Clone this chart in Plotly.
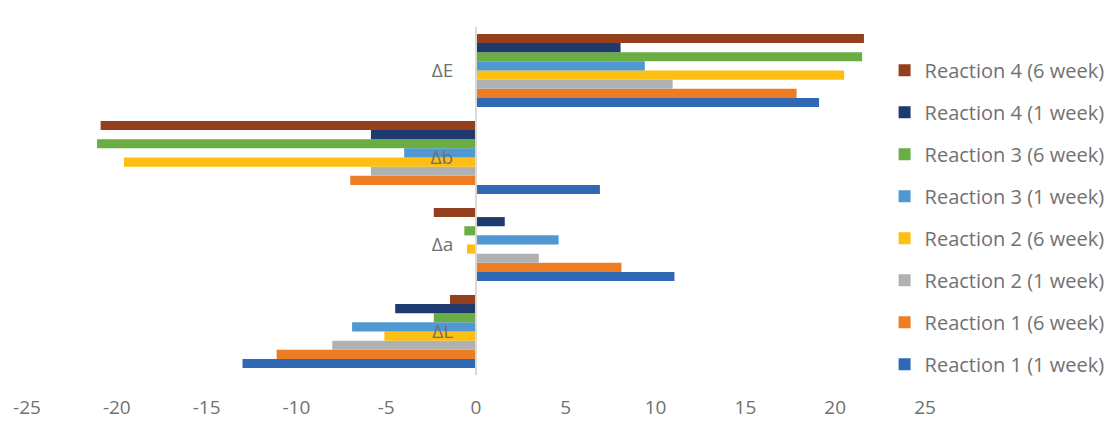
import plotly.graph_objects as go

# Colour-difference components, bottom to top on the category axis
categories = ["ΔL", "Δa", "Δb", "ΔE"]

r1_1week = [-13.0, 11.05, 6.9, 19.1]
r1_6week = [-11.1, 8.1, -7.0, 17.85]
r2_1week = [-8.0, 3.5, -5.85, 10.95]
r2_6week = [-5.1, -0.5, -19.6, 20.5]
r3_1week = [-6.9, 4.6, -4.0, 9.4]
r3_6week = [-2.35, -0.65, -21.1, 21.5]
r4_1week = [-4.5, 1.6, -5.85, 8.05]
r4_6week = [-1.45, -2.35, -20.9, 21.6]

series_names = [
    "Reaction 1 (1 week)", "Reaction 1 (6 week)",
    "Reaction 2 (1 week)", "Reaction 2 (6 week)",
    "Reaction 3 (1 week)", "Reaction 3 (6 week)",
    "Reaction 4 (1 week)", "Reaction 4 (6 week)",
]
series_values = [r1_1week, r1_6week, r2_1week, r2_6week,
                 r3_1week, r3_6week, r4_1week, r4_6week]
series_colors = ["#3068B4", "#ED7D25", "#B0B1B3", "#FCBF12",
                 "#4F98D3", "#6AAD45", "#1E3A6E", "#94401F"]

x_ticks = [-25, -20, -15, -10, -5, 0, 5, 10, 15, 20, 25]

text_grey = "#717171"
font_family = "Open Sans, Liberation Sans, sans-serif"

fig = go.Figure()
n = len(series_names)
for i, (name, vals, col) in enumerate(zip(series_names, series_values, series_colors)):
    fig.add_trace(go.Bar(
        y=categories, x=vals, name=name, orientation="h",
        marker=dict(color=col, line=dict(width=0)),
        legendgroup=name, legendrank=1000 + (n - i),
    ))

fig.update_layout(
    width=1115, height=421,
    paper_bgcolor="white", plot_bgcolor="white",
    margin=dict(l=27, r=190, t=27, b=46, autoexpand=False),
    barmode="group", bargap=0.16, bargroupgap=0,
    font=dict(family=font_family, color=text_grey, size=19),
    showlegend=True,
    legend=dict(
        traceorder="grouped", x=0.955, xanchor="left", xref="paper",
        y=0.453, yanchor="middle",
        font=dict(size=20, color=text_grey),
        itemwidth=30, tracegroupgap=13, bgcolor="rgba(0,0,0,0)",
    ),
    xaxis=dict(
        range=[-25, 25], tickvals=x_ticks, ticktext=[str(t) for t in x_ticks],
        showgrid=False, zeroline=False, showline=False, ticks="",
        tickfont=dict(size=19, color=text_grey), automargin=False,
        ticklabelstandoff=19,
    ),
    yaxis=dict(
        type="category", categoryorder="array", categoryarray=categories,
        anchor="free", position=0.5, side="left",
        showline=True, linecolor="#D9D9D9", linewidth=2,
        showgrid=False, zeroline=False, ticks="",
        tickfont=dict(size=19, color=text_grey), automargin=False,
        ticklabelstandoff=18,
    ),
)

fig.write_html("out.html")
